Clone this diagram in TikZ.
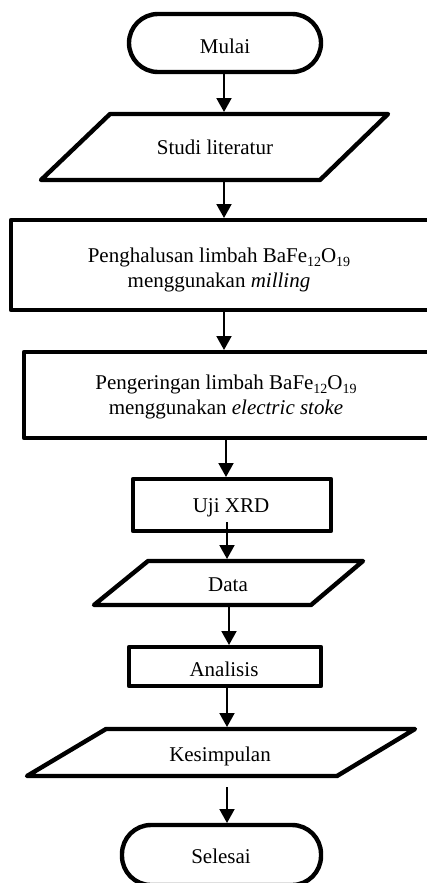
\documentclass[tikz,border=0pt]{standalone}
\usepackage{fontspec}
\setmainfont{Liberation Serif}
\usetikzlibrary{arrows.meta}
\newcommand\sbs[1]{\raisebox{-0.22em}{\fontsize{14}{14}\selectfont #1}}
\begin{document}
\begin{tikzpicture}[x=1pt,y=-1pt,
  shp/.style={line width=4.4pt, line join=round},
  conn/.style={line width=2pt, -{Triangle[width=15pt,length=14pt]}},
  lbl/.style={font=\fontsize{21}{25}\selectfont, inner sep=0pt, anchor=base}]
\useasboundingbox (0,0) rectangle (427,883);
\clip (0,0) rectangle (427,883);
% shapes
\draw[shp, rounded corners=29pt] (129,14) rectangle (321,72);
\draw[shp] (110,114) -- (388,114) -- (320,180) -- (41,180) -- cycle;
\draw[shp] (11,220) rectangle (445,310);
\draw[shp] (24,352) rectangle (445,438);
\draw[shp] (133,479) rectangle (331,531);
\draw[shp] (148,561) -- (363,561) -- (311,605) -- (94,605) -- cycle;
\draw[shp] (129,647) rectangle (321,686);
\draw[shp] (106,729) -- (415,729) -- (337,776) -- (27,776) -- cycle;
\draw[shp, rounded corners=29pt] (122,825) rectangle (321,885);
% connector ends
\coordinate (mulaiB) at (224,74);   \coordinate (studiT) at (224,112);
\coordinate (studiB) at (224,182);  \coordinate (halusT) at (224,218);
\coordinate (halusB) at (224,312);  \coordinate (keringT) at (224,350);
\coordinate (keringB) at (226,440); \coordinate (ujiT) at (226,477);
\coordinate (ujiB) at (227,522);    \coordinate (dataT) at (227,559);
\coordinate (dataB) at (229,607);   \coordinate (analT) at (229,645);
\coordinate (analB) at (227,688);   \coordinate (kesT) at (227,727);
\coordinate (kesB) at (227,787);    \coordinate (selT) at (227,823);
% texts
\node[lbl] (mulai) at (225,53) {Mulai};
\node[lbl] (studi) at (215,154) {Studi literatur};
\node[lbl] (halus1) at (219,262) {Penghalusan limbah BaFe\sbs{12}O\sbs{19}};
\node[lbl] (halus2) at (219,287) {menggunakan \textit{milling}};
\node[lbl] (kering1) at (226,389) {Pengeringan limbah BaFe\sbs{12}O\sbs{19}};
\node[lbl] (kering2) at (226,414) {menggunakan \textit{electric stoke}};
\node[lbl] (uji) at (231,512) {Uji XRD};
\node[lbl] (data) at (228,591) {Data};
\node[lbl] (anal) at (224,676) {Analisis};
\node[lbl] (kes) at (220,761) {Kesimpulan};
\node[lbl] (sel) at (221,863) {Selesai};
% connectors
\draw[conn] (mulaiB) -- (studiT);
\draw[conn] (studiB) -- (halusT);
\draw[conn] (halusB) -- (keringT);
\draw[conn] (keringB) -- (ujiT);
\draw[conn] (ujiB) -- (dataT);
\draw[conn] (dataB) -- (analT);
\draw[conn] (analB) -- (kesT);
\draw[conn] (kesB) -- (selT);
\end{tikzpicture}
\end{document}
